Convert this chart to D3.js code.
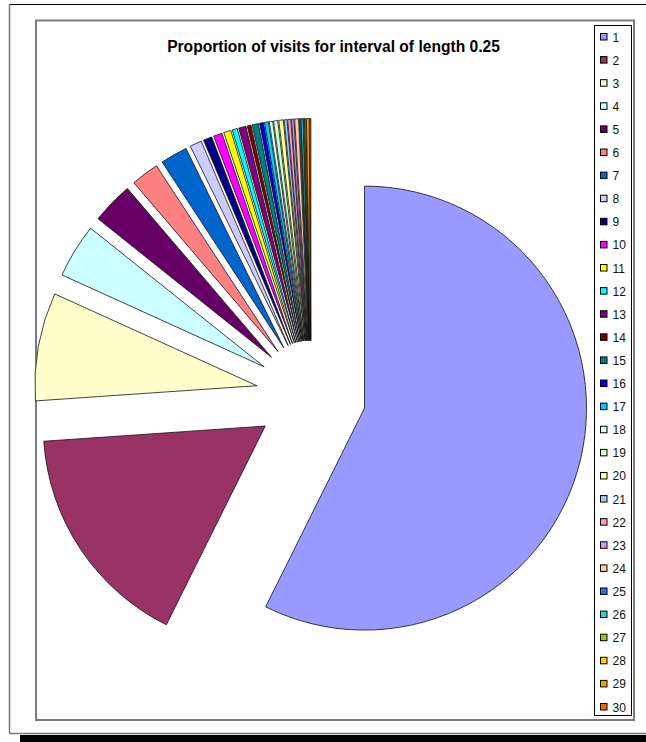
<!DOCTYPE html>
<html lang="en">
<head>
<meta charset="UTF-8">
<title>Proportion of visits</title>
<script src="https://cdnjs.cloudflare.com/ajax/libs/d3/7.8.5/d3.min.js"></script>
<style>
  body { margin: 0; background: #fff; }
  text { font-family: "Liberation Sans", Arial, sans-serif; }
</style>
</head>
<body>
<script>
// data (percent of visits per interval)
const categories = d3.range(1, 31).map(String)
const values = [56.8, 16.4, 7.8, 3.9, 3.0, 2.0, 1.95, 0.85, 0.62, 0.62,
                0.52, 0.37, 0.52, 0.27, 0.45, 0.28, 0.28, 0.24, 0.3, 0.32,
                0.2, 0.22, 0.17, 0.28, 0.1, 0.14, 0.08, 0.08, 0.2, 0.08]
const colors = ["#9999FF", "#993366", "#FFFFCC", "#CCFFFF", "#660066", "#FF8080",
                "#0066CC", "#CCCCFF", "#000080", "#FF00FF", "#FFFF00", "#00FFFF",
                "#800080", "#800000", "#008080", "#0000FF", "#00CCFF", "#CCFFFF",
                "#CCFFCC", "#FFFF99", "#99CCFF", "#FF99CC", "#CC99FF", "#FFCC99",
                "#3366FF", "#33CCCC", "#99CC00", "#FFCC00", "#FF9900", "#FF6600"]
const title = "Proportion of visits for interval of length 0.25"

const width = 646, height = 742

const svg = d3.select("body").append("svg")
    .attr("width", width)
    .attr("height", height)

// shadow under the chart frame
svg.append("rect")
    .attr("x", 20).attr("y", 735)
    .attr("width", width - 20).attr("height", 7)
    .attr("fill", "#000")

// outer frame
svg.append("line").attr("x1", 9.5).attr("x2", width).attr("y1", 4.5).attr("y2", 4.5)
    .attr("stroke", "#000")
svg.append("line").attr("x1", 9.5).attr("x2", 9.5).attr("y1", 4.5).attr("y2", 733.5)
    .attr("stroke", "#777").attr("stroke-width", 1.5)
svg.append("line").attr("x1", 9.5).attr("x2", width).attr("y1", 733.5).attr("y2", 733.5)
    .attr("stroke", "#777").attr("stroke-width", 1.5)

// plot area
svg.append("rect")
    .attr("x", 36).attr("y", 20.5)
    .attr("width", 598).attr("height", 699.5)
    .attr("fill", "none")
    .attr("stroke", "#7a7a7a")
    .attr("stroke-width", 2)

svg.append("text")
    .attr("x", 333.5).attr("y", 52)
    .attr("text-anchor", "middle")
    .attr("font-size", 15.6)
    .attr("font-weight", "bold")
    .attr("fill", "#000")
    .text(title)

// exploded pie
const cx = 311, cy = 395.5, radius = 222, explode = 55

const pie = d3.pie().sort(null).value(d => d)
const arc = d3.arc().innerRadius(0).outerRadius(radius)
const color = d3.scaleOrdinal().domain(categories).range(colors)

const arcs = pie(values)

svg.append("g")
    .attr("transform", `translate(${cx},${cy})`)
  .selectAll("path")
  .data(arcs)
  .join("path")
    .attr("transform", d => {
        let a = (d.startAngle + d.endAngle) / 2
        return `translate(${explode * Math.sin(a)},${-explode * Math.cos(a)})`
    })
    .attr("d", arc)
    .attr("fill", (d, i) => color(categories[i]))
    .attr("stroke", "#111")
    .attr("stroke-width", 0.8)
    .attr("stroke-linejoin", "round")

// legend
svg.append("rect")
    .attr("x", 594.5).attr("y", 25.5)
    .attr("width", 37).attr("height", 690)
    .attr("fill", "#fff")
    .attr("stroke", "#000")

const ly = d3.scalePoint().domain(categories).range([37, 707])

const item = svg.append("g").selectAll("g")
    .data(categories)
    .join("g")
    .attr("transform", d => `translate(0,${ly(d)})`)

item.append("rect")
    .attr("x", 600.5).attr("y", -3.5)
    .attr("width", 6.5).attr("height", 6.5)
    .attr("fill", d => color(d))
    .attr("stroke", "#000")

item.append("text")
    .attr("x", 612.5).attr("y", 4.5)
    .attr("font-size", 12)
    .attr("fill", "#111")
    .text(d => d)
</script>
</body>
</html>
